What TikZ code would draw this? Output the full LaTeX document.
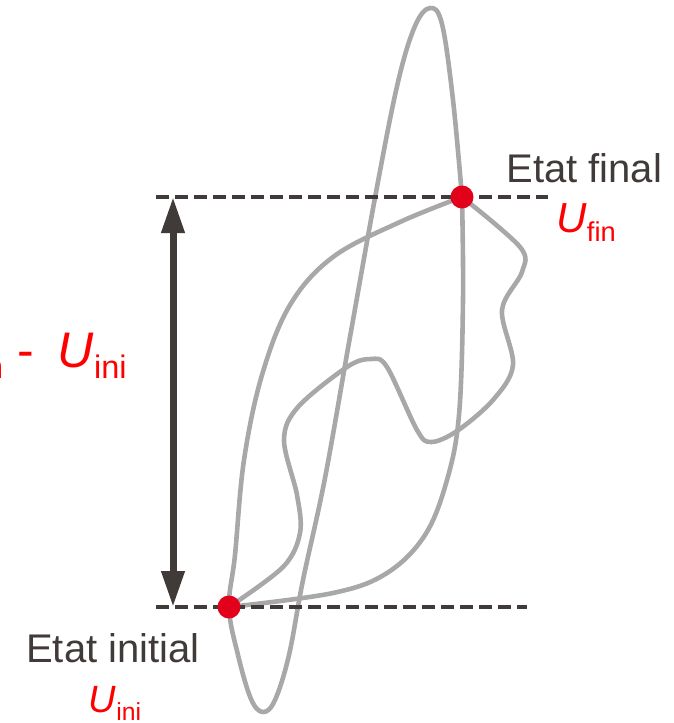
\documentclass[tikz,border=0pt]{standalone}
\usepackage{fontspec}
\setmainfont{Liberation Sans}
\usetikzlibrary{arrows.meta}
\definecolor{ink}{HTML}{403B38}
\definecolor{curvegray}{HTML}{A8A8A8}
\definecolor{labelred}{HTML}{FF0000}
\definecolor{dotred}{HTML}{E2001A}
\newcommand{\Usub}[1]{\textit{U}\raisebox{-0.22em}{\scalebox{0.65}{#1}}}

\begin{document}
\begin{tikzpicture}[x=0.5pt,y=-0.5pt,
  route/.style={draw=curvegray,line width=2.3pt,line join=round},
  level/.style={draw=ink,line width=2.4pt,dash pattern=on 6.5pt off 3pt},
  state/.style={circle,fill=dotred,inner sep=0pt,minimum size=11.5pt},
  txt/.style={text=ink,inner sep=0pt,font=\fontsize{20}{24}\selectfont},
  val/.style={text=labelred,inner sep=0pt}]
\useasboundingbox (0,0) rectangle (674,723);
\clip (0,0) rectangle (674,723);
\coordinate (fin) at (462,197);
\coordinate (ini) at (229,607);
% paths between the states
\draw[route] plot[smooth,tension=0.6] coordinates {(fin) (400,222) (333,257) (290,305) (262,375) (244,460) (235,555) (ini) (238,655) (251,699) (263,712) (275,700) (289,655) (303,580) (325,478) (350,337) (377,187) (398,82) (415,26) (430,8) (442,24) (453,100) (fin)};
\draw[route] plot[smooth,tension=0.6] coordinates {(fin) (463,300) (459,415) (447,480) (425,535) (387,573) (333,593) (ini)};
\draw[route] plot[smooth,tension=0.55] coordinates {(fin) (520,247) (522,272) (502,310) (513,365) (493,400) (457,431) (431,442) (417,430) (387,367) (371,359) (347,367) (298,407) (284,440) (297,495) (300,533) (283,567) (ini)};
% levels of the two states
\coordinate (topL) at (156,197);
\coordinate (topR) at (548,197);
\coordinate (botL) at (156,607);
\coordinate (botR) at (527,607);
\draw[level] (topL) -- (topR);
\draw[level] (botL) -- (botR);
\node[state] (findot) at (fin) {};
\node[state] (inidot) at (ini) {};
% difference of energy
\coordinate (arrtop) at (173,197);
\coordinate (arrbot) at (173,607);
\draw[ink,line width=3.5pt,{Triangle[length=18pt,width=11pt]}-{Triangle[length=18pt,width=11pt]}] (arrtop) -- (arrbot);
\node[val,anchor=base east,font=\fontsize{25}{29}\selectfont] (delta) at (127,367) {\Usub{fin} -\hspace{0.48em}\Usub{ini}};
% labels
\node[txt,anchor=base west] (finname) at (506,182) {Etat final};
\node[val,anchor=base west,font=\fontsize{21}{25}\selectfont] (finval) at (556,232) {\Usub{fin}};
\node[txt,anchor=base] (ininame) at (113,662) {Etat initial};
\node[val,anchor=base,font=\fontsize{19}{23}\selectfont] (inival) at (115,712) {\Usub{ini}};
\end{tikzpicture}
\end{document}
